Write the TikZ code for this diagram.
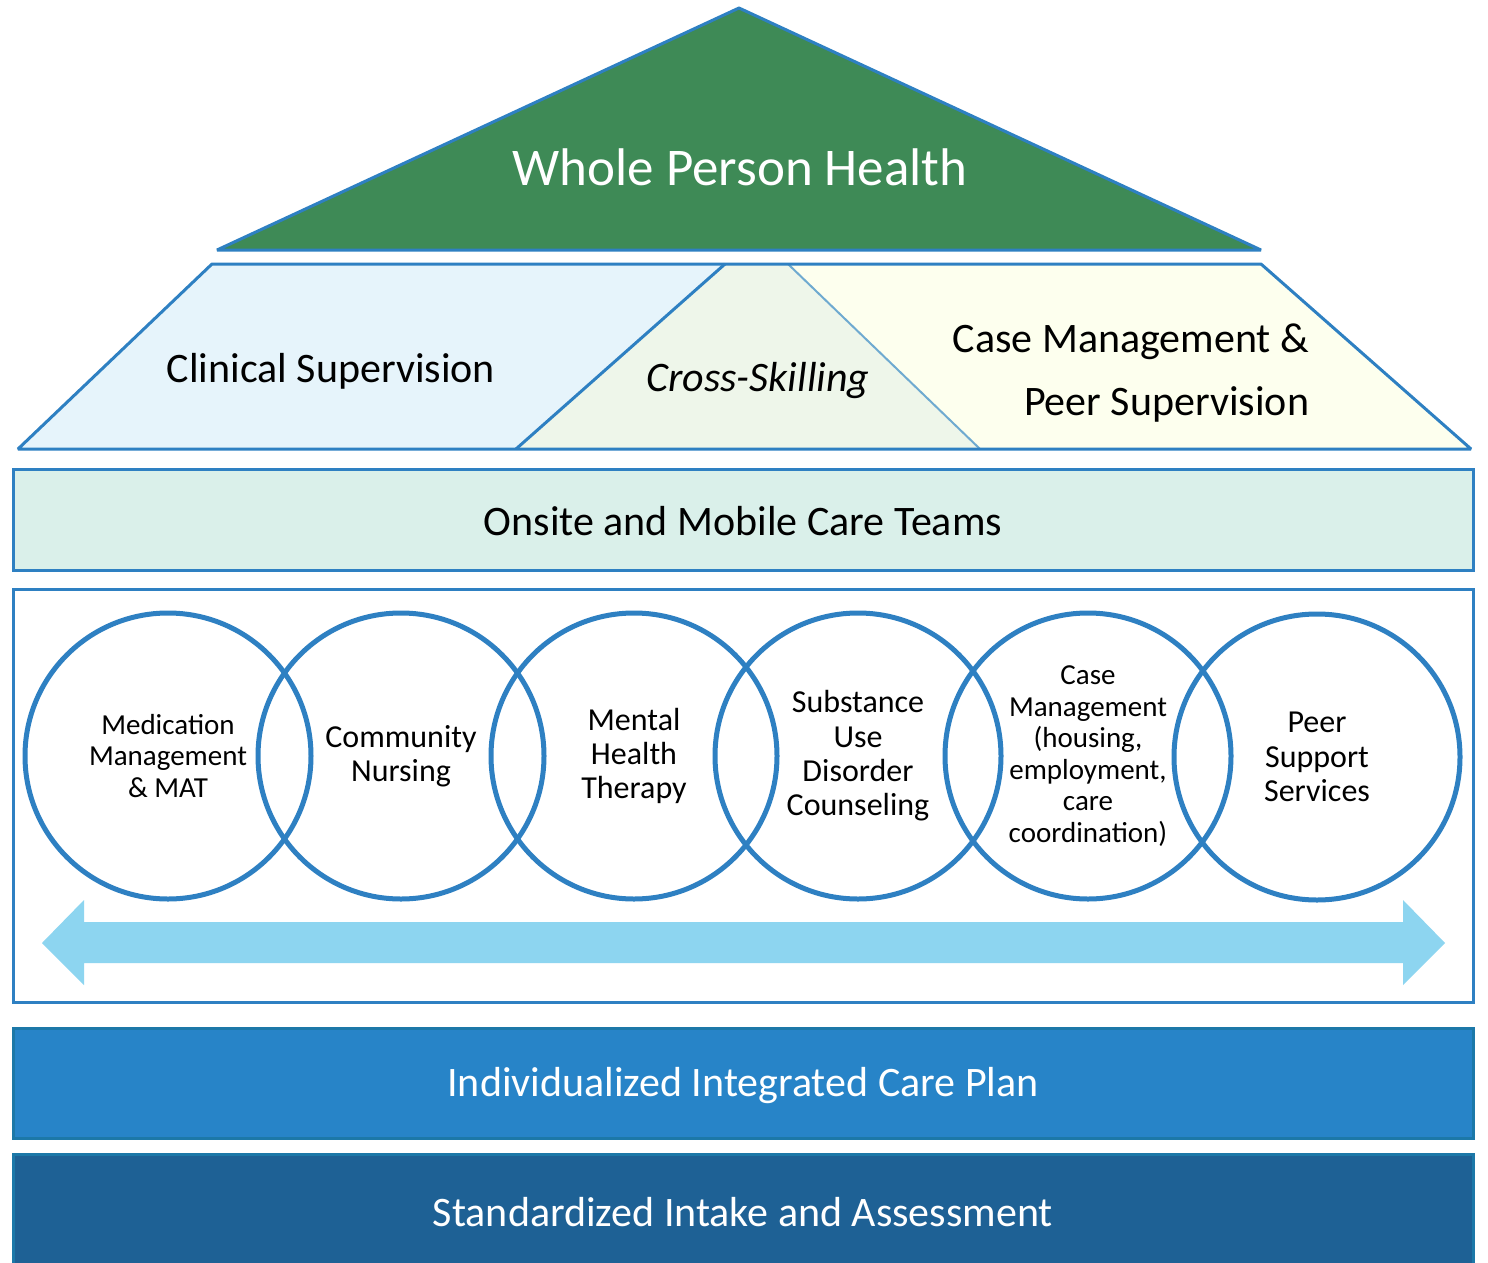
\documentclass[tikz,border=0pt]{standalone}
\usepackage{fontspec}
\setmainfont{Carlito}
\definecolor{edgeblue}{HTML}{2E80C2}
\definecolor{roofgreen}{HTML}{3E8A56}
\definecolor{clinfill}{HTML}{E6F4FB}
\definecolor{crossfill}{HTML}{EEF6EA}
\definecolor{casefill}{HTML}{FDFFEE}
\definecolor{crossedge}{HTML}{6FAAD0}
\definecolor{teamfill}{HTML}{DAF0EA}
\definecolor{arrowblue}{HTML}{8DD5F0}
\definecolor{planfill}{HTML}{2784C8}
\definecolor{planedge}{HTML}{1C78A8}
\definecolor{intakefill}{HTML}{1E6195}
\tikzset{
  outline/.style={draw=edgeblue, line width=3pt, line join=miter},
  bigtext/.style={font=\fontsize{42}{63}\selectfont, align=center, inner sep=0pt},
  circ/.style={circle, draw=edgeblue, line width=5pt, minimum size=286pt, inner sep=0pt, align=center},
  smalltext/.style={font=\fontsize{29}{31.6}\selectfont},
  midtext/.style={font=\fontsize{32}{34.4}\selectfont},
}
\begin{document}
\begin{tikzpicture}[x=1pt,y=-1pt]
\clip (0,0) rectangle (1488,1263);
\fill[white] (0,0) rectangle (1488,1263);
% roof
\draw[outline, line join=bevel, fill=roofgreen] (217,250) -- (739,8) -- (1261,250) -- cycle;
\node[font=\fontsize{53}{60}\selectfont, text=white, inner sep=0pt] (roof) at (740,167) {Whole Person Health};
% middle row
\fill[clinfill] (212,264) -- (725,264) -- (516,449) -- (18,449) -- cycle;
\fill[crossfill] (725,264) -- (788,264) -- (980,449) -- (516,449) -- cycle;
\fill[casefill] (788,264) -- (1261,264) -- (1471,449) -- (980,449) -- cycle;
\draw[crossedge, line width=2pt] (788,264) -- (980,449);
\draw[outline] (516,449) -- (725,264);
\draw[outline, line join=bevel] (18,449) -- (212,264) -- (1261,264) -- (1471,449) -- cycle;
\node[bigtext] (clin) at (331,371) {Clinical Supervision};
\node[bigtext, font=\fontsize{42}{63}\selectfont\itshape] (cross) at (758,381) {Cross-Skilling};
\node[bigtext, align=right] (casem) at (1131,373) {Case Management \&\\Peer Supervision};
% teams
\draw[outline, fill=teamfill] (13,469) rectangle (1473,570);
\node[bigtext] (teams) at (743,521) {Onsite and Mobile Care Teams};
% services box
\draw[outline, fill=white] (13,589) rectangle (1473,1002);
\fill[arrowblue] (42,943) -- (84,900) -- (84,922) -- (1403,922) -- (1403,900) -- (1445,943) -- (1403,985) -- (1403,963) -- (84,963) -- (84,985) -- cycle;
\node[circ, smalltext] (c1) at (168,756) {Medication\\Management\\\& MAT};
\node[circ, midtext] (c2) at (401,756) {Community\\Nursing};
\node[circ, midtext] (c3) at (634,756) {Mental\\Health\\Therapy};
\node[circ, midtext] (c4) at (858,756) {Substance\\Use\\Disorder\\Counseling};
\node[circ, smalltext] (c5) at (1088,756) {Case\\Management\\(housing,\\employment,\\care\\coordination)};
\node[circ, midtext] (c6) at (1317,757) {Peer\\Support\\Services};
% foundation
\draw[draw=planedge, line width=3pt, fill=planfill] (13,1028) rectangle (1473,1138);
\node[bigtext, text=white] (plan) at (743,1086) {Individualized Integrated Care Plan};
\draw[draw=planedge, line width=3pt, fill=intakefill] (13,1154) rectangle (1473,1280);
\node[bigtext, text=white] (intake) at (743,1212) {Standardized Intake and Assessment};
\end{tikzpicture}
\end{document}
